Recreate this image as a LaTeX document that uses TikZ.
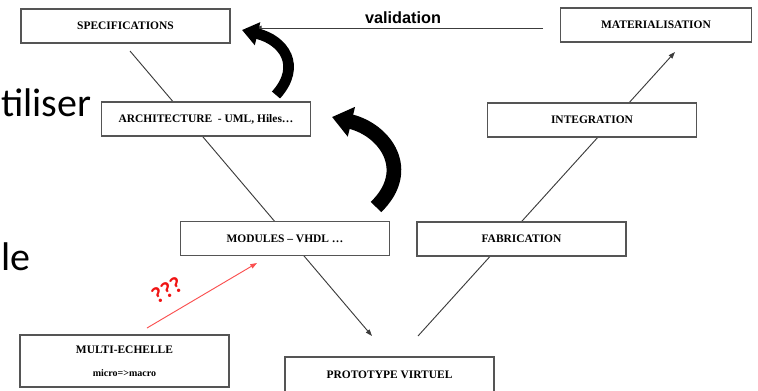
\documentclass[tikz,border=0pt]{standalone}
\usepackage{fontspec}
\setmainfont{Liberation Serif}
\newfontfamily\arialfont{Liberation Sans}
\newfontfamily\slidefont{Carlito}
\usetikzlibrary{arrows.meta, positioning}
\definecolor{BoxGray}{RGB}{85,85,85}
\definecolor{LineGray}{RGB}{60,60,60}
\definecolor{SoftRed}{RGB}{250,80,80}
\definecolor{QRed}{RGB}{240,20,20}

\begin{document}
\begin{tikzpicture}[
    x=0.75pt, y=-0.75pt,
    every node/.style={font=\fontsize{8.6}{10}\selectfont\bfseries, align=center},
    stage/.style={draw=BoxGray, line width=0.9pt, fill=white, inner sep=0pt, minimum width=156.75pt, minimum height=25.5pt},
    vline/.style={draw=LineGray, line width=0.7pt, -{Triangle[length=5pt, width=3.5pt]}},
    fatarrow/.style={black, line width=#1, line cap=butt}
]
\useasboundingbox (0,0) rectangle (758,390);

% the two branches of the V, behind the boxes
\coordinate (ltop) at (130,51);
\coordinate (lbot) at (372,336);
\coordinate (rbot) at (418,336);
\coordinate (rtop) at (675,52);
\draw[vline] (ltop) -- (lbot);
\draw[vline] (rbot) -- (rtop);

% stages
\node[stage] (spec) at (125.5,26) {SPECIFICATIONS};
\node[stage, minimum width=143pt] (mater) at (656,25) {MATERIALISATION};
\node[stage] (archi) at (206,119) {ARCHITECTURE \ - UML, Hiles\dots};
\node[stage] (integ) at (592,120) {INTEGRATION};
\node[stage] (modules) at (285,238.5) {MODULES -- VHDL \dots};
\node[stage] (fab) at (521.5,239) {FABRICATION};
\node[stage, minimum height=39pt] (multi) at (124.5,361) {MULTI-ECHELLE\\[7pt]{\fontsize{7.5}{9}\selectfont micro=>macro}};
\node[stage, minimum height=27pt] (proto) at (389.5,375) {PROTOTYPE VIRTUEL};

% validation
\coordinate (valstart) at (543,28);
\coordinate (valend) at (255,28);
\draw[vline] (valstart) -- (valend);
\node[font=\arialfont\fontsize{12.2}{14}\selectfont\bfseries, anchor=base] (vallabel) at (403,23) {validation};

% multi-echelle link
\coordinate (redstart) at (147,328);
\coordinate (redend) at (257,263);
\draw[SoftRed, line width=0.7pt, -{Triangle[length=5pt, width=3.5pt]}] (redstart) -- (redend);
\node[text=QRed, rotate=30, font=\slidefont\fontsize{17}{19}\selectfont\bfseries] (qmarks) at (167,290) {???};

% curved arrows
\coordinate (atail) at (276,95);
\coordinate (atip) at (242,30);
\draw[fatarrow=8pt, -{Triangle[length=12pt, width=17pt]}] (atail) .. controls (302,66) and (284,40) .. (atip);
\coordinate (btail) at (376,207);
\coordinate (btip) at (332,117);
\draw[fatarrow=11pt, -{Triangle[length=15pt, width=22pt]}] (btail) .. controls (414,170) and (385,130) .. (btip);

% cut slide text
\node[font=\slidefont\fontsize{30}{34}\selectfont, anchor=base east] (slidea) at (96,116) {tiliser};
\node[font=\slidefont\fontsize{30}{34}\selectfont, anchor=base west] (slideb) at (-3,270) {le};
\end{tikzpicture}
\end{document}
